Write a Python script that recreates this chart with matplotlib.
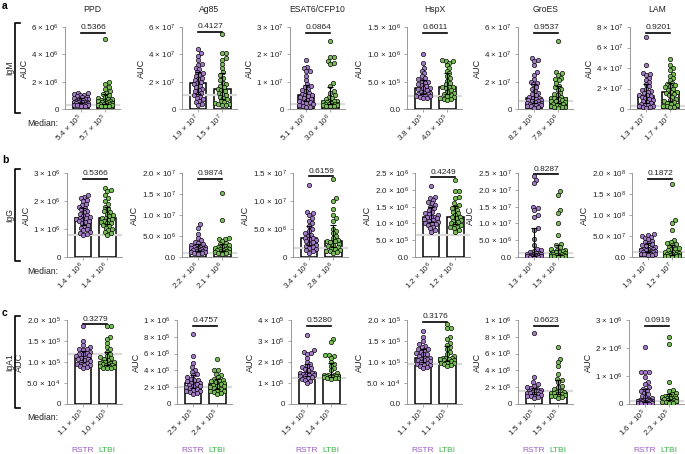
import numpy as np
import matplotlib.pyplot as plt
from matplotlib.lines import Line2D

plt.rcParams['font.family'] = 'Liberation Sans'
plt.rcParams['mathtext.fontset'] = 'custom'
plt.rcParams['mathtext.rm'] = 'Liberation Sans'
plt.rcParams['mathtext.it'] = 'Liberation Sans:italic'
plt.rcParams['mathtext.bf'] = 'Liberation Sans:bold'

antigens = ['PPD', 'Ag85', 'ESAT6/CFP10', 'HspX', 'GroES', 'LAM']
isotypes = ['IgM', 'IgG', 'IgA1']
groups = ['RSTR', 'LTBI']

# ---- IgM (AUC values, one list per antigen) ----
igm_rstr = [
    np.array([12, 11.5, 11, 10.5, 10, 9.5, 9, 8.5, 8, 7.5, 7, 7, 6.5, 6, 5.4, 5.5, 5.4, 5.2, 5, 4.8, 4.5, 4.2, 4, 3.8, 3.5, 3.2, 3, 2.8, 2.5, 2.2]) * 1e5,
    np.array([44, 41, 39, 36, 33, 32, 30, 29, 27, 26, 25, 24, 23, 22, 21, 20, 19, 18, 17, 16, 15, 14, 13, 12, 11, 10, 9, 8, 7, 6, 5, 4, 3]) * 1e6,
    np.array([18, 15.5, 15, 14, 14, 12, 10.5, 9, 8.5, 8, 7.5, 7, 6.5, 6, 5.5, 5.1, 5, 4.7, 4.4, 4, 3.7, 3.4, 3, 2.7, 2.4, 2.1, 1.8, 1.5, 1.2, 0.9, 0.6]) * 1e6,
    np.array([10, 8.5, 7.5, 7, 6.5, 6, 5.6, 5.4, 5.2, 5, 4.8, 4.6, 4.4, 4.2, 3.8, 3.8, 3.6, 3.4, 3.2, 3, 2.9, 2.8, 2.7, 2.6, 2.5, 2.4, 2.3, 2.2, 2.1, 2]) * 1e5,
    np.array([37, 36, 35, 32, 27, 25, 22, 20, 19, 18, 16, 15, 13, 12, 11, 10, 9, 8.2, 8, 7, 6.8, 6.5, 6, 5.5, 5, 4.5, 4.2, 4, 3.5, 3.2, 3, 2.8, 2.5, 2, 1.5, 1]) * 1e6,
    np.array([70, 43, 35, 34, 33, 30, 28, 26, 24, 22, 20, 19, 18, 17, 16, 13.5, 14, 13, 12, 11, 10, 9, 8, 7, 6, 5, 4, 3.5, 3, 2.5, 2, 1.5, 1]) * 1e6,
]
igm_ltbi = [
    np.array([51, 19.5, 18.5, 16, 15, 13, 12, 11, 10, 9, 8, 7.5, 7, 6.5, 6, 5.7, 5.5, 5, 4.8, 4.5, 4.2, 4, 3.8, 3.5, 3.2, 3, 2.8, 2.5, 2.2, 2]) * 1e5,
    np.array([55, 41, 41, 37, 36, 33, 30, 27, 25, 23, 21, 19, 18, 17, 16, 15, 14, 13, 12, 11, 10, 9, 8, 7, 6, 5, 4.5, 4, 3.5, 3, 3]) * 1e6,
    np.array([25, 19, 19, 17.5, 17, 16.5, 9.5, 8.5, 6.5, 6, 5, 4.5, 4, 3.6, 3.1, 3, 2.8, 2.6, 2.4, 2.2, 2, 1.9, 1.8, 1.7, 1.6, 1.5, 1.3, 1.2, 1.1, 1]) * 1e6,
    np.array([9, 8.8, 8.7, 8.5, 8, 7.5, 7, 6.5, 6, 5.6, 5.2, 4.8, 4.5, 4.1, 4, 4, 3.8, 3.5, 3.2, 3, 2.8, 2.6, 2.4, 2.2, 2, 1.9, 1.8, 1.7]) * 1e5,
    np.array([50, 27, 26, 25, 23, 22, 21, 19, 17, 16, 15, 14, 12, 11, 10, 9, 8, 7.8, 7.5, 7, 6.5, 6, 5.5, 5, 4.5, 4, 3.5, 3, 2.5, 2, 1.8, 1.5, 1.2, 1]) * 1e6,
    np.array([49, 43, 40, 38, 34, 32, 30, 28, 25, 24, 23, 22, 21, 20, 19, 17, 17, 16, 15, 14, 12, 10, 9, 8, 7, 6, 5, 4, 3, 2.5, 2, 1.5]) * 1e6,
]

# ---- IgG ----
igg_rstr = [
    np.array([22, 21.5, 21, 20.5, 20, 19, 18.5, 18, 17.5, 17, 16.5, 16, 15.5, 15, 14.5, 14.2, 14, 13.8, 13.5, 13.2, 13, 12.8, 12.5, 12, 11.5, 11, 10.5, 10, 9.5, 9, 8.5, 8.2, 8]) * 1e5,
    np.array([7.8, 7.0, 5.5, 4.5, 4.0, 3.6, 3.3, 3.0, 2.8, 2.6, 2.5, 2.4, 2.3, 2.2, 2.2, 2.1, 2.0, 1.9, 1.8, 1.7, 1.6, 1.5, 1.4, 1.3, 1.2, 1.1, 1.0, 0.9, 0.8]) * 1e6,
    np.array([12.8, 8.0, 7.8, 7.5, 7.0, 6.5, 6.0, 5.5, 5.0, 4.6, 4.3, 4.0, 3.8, 3.4, 3.4, 3.2, 3.0, 2.8, 2.6, 2.4, 2.2, 2.0, 1.8, 1.6, 1.4, 1.2, 1.0, 0.8]) * 1e6,
    np.array([21, 18, 17.5, 17, 16.5, 16, 15.5, 15, 14.5, 14, 13.5, 13, 12.8, 12.5, 12, 12, 11.8, 11.5, 11.2, 11, 10.8, 10.5, 10.2, 10, 9.8, 9.5, 9, 8.5, 8, 7.5]) * 1e5,
    np.array([24, 23, 22, 15, 14.5, 14, 12.5, 12, 8.5, 8, 5.5, 3.5, 2.5, 2.0, 1.8, 1.5, 1.3, 1.2, 1.0, 0.9, 0.8, 0.7, 0.6, 0.5, 0.4, 0.35, 0.3, 0.25, 0.2, 0.15, 0.1, 0.1, 0.05]) * 1e6,
    np.array([5.5, 5.3, 5.0, 4.8, 4.5, 4.2, 3.9, 3.6, 3.3, 3.0, 2.8, 2.6, 2.4, 2.2, 2.0, 1.9, 1.8, 1.7, 1.6, 1.5, 1.4, 1.3, 1.2, 1.1, 1.0, 0.9, 0.8, 0.7, 0.6, 0.5, 0.4]) * 1e7,
]
igg_ltbi = [
    np.array([24.5, 24, 23.5, 22, 21, 20, 19, 18, 17, 16.5, 16, 15.5, 15, 14.5, 14, 14, 13.5, 13.2, 13, 12.5, 12.2, 12, 11.5, 11, 10.5, 10, 9.5, 9, 8.5, 8]) * 1e5,
    np.array([15.2, 8.8, 4.5, 4.4, 4.2, 3.8, 3.4, 3.0, 2.8, 2.6, 2.4, 2.3, 2.2, 2.1, 2.0, 1.9, 1.8, 1.7, 1.6, 1.5, 1.4, 1.3, 1.2, 1.1, 1.0, 0.9, 0.8]) * 1e6,
    np.array([14.0, 10.5, 10.0, 8.5, 7.5, 7.0, 6.5, 5.0, 4.6, 4.2, 3.8, 3.4, 3.1, 2.8, 2.8, 2.6, 2.4, 2.2, 2.0, 1.8, 1.6, 1.4, 1.2, 1.1, 1.0, 0.9, 0.8]) * 1e6,
    np.array([23, 19.5, 19.5, 18, 17.5, 16, 15.5, 15, 14.5, 14, 13.5, 13, 12.5, 12, 11.8, 11.5, 11, 10.8, 10.5, 10, 9.8, 9.5, 9, 8.8, 8.5, 8, 7.5]) * 1e5,
    np.array([19.5, 18.5, 14, 13, 10, 6.5, 4.0, 3.5, 3.0, 2.5, 2.2, 2.0, 1.8, 1.6, 1.5, 1.4, 1.2, 1.0, 0.9, 0.8, 0.7, 0.6, 0.5, 0.4, 0.3, 0.2, 0.15, 0.1, 0.05]) * 1e6,
    np.array([17.5, 8.8, 8.2, 6.5, 4.0, 3.6, 3.3, 3.0, 2.8, 2.5, 2.2, 2.0, 1.8, 1.6, 1.2, 1.2, 1.1, 1.0, 0.9, 0.8, 0.7, 0.6, 0.5, 0.4, 0.35, 0.3, 0.25, 0.2, 0.15, 0.1]) * 1e7,
]

# ---- IgA1 ----
iga_rstr = [
    np.array([18.5, 15, 14, 13.5, 13.2, 13, 12.8, 12.5, 12.2, 12, 11.8, 11.6, 11.4, 11, 11, 10.8, 10.6, 10.4, 10.2, 10, 9.8, 9.6, 9.4, 9.2, 9, 8.8, 8.5]) * 1e4,
    np.array([8.3, 5.7, 4.9, 4.4, 4.1, 3.8, 3.6, 3.4, 3.2, 3.0, 2.9, 2.8, 2.7, 2.5, 2.5, 2.4, 2.3, 2.2, 2.1, 2.0, 1.9, 1.8, 1.7, 1.6, 1.5, 1.4, 1.3, 1.2]) * 1e5,
    np.array([3.3, 2.55, 2.5, 2.45, 2.4, 2.2, 2.0, 1.9, 1.8, 1.75, 1.7, 1.65, 1.6, 1.5, 1.5, 1.48, 1.45, 1.42, 1.4, 1.38, 1.35, 1.32, 1.3, 1.25, 1.2, 1.15, 1.1, 1.0]) * 1e5,
    np.array([17.5, 16, 15, 14.2, 13.8, 13.5, 13.2, 13, 12.8, 12.5, 12.2, 12, 11.8, 11.5, 11, 11, 10.8, 10.6, 10.5, 10.4, 10.2, 10, 9.8, 9.6, 9.4, 9.2, 9, 8.8, 8.5]) * 1e4,
    np.array([8.4, 3.2, 2.6, 2.4, 2.2, 2.0, 1.9, 1.8, 1.7, 1.65, 1.6, 1.5, 1.5, 1.45, 1.4, 1.35, 1.3, 1.25, 1.2, 1.1, 1.0, 0.9, 0.8, 0.7]) * 1e5,
    np.array([20.5, 11.5, 11.5, 11.5, 9.5, 8, 7, 6, 5.5, 5, 4.5, 4, 3.5, 3, 2.5, 2, 1.8, 1.6, 1.5, 1.4, 1.3, 1.2, 1.1, 1.0, 0.9, 0.8, 0.7, 0.6, 0.5, 0.4, 0.3, 0.25, 0.2, 0.15, 0.1]) * 1e5,
]
iga_ltbi = [
    np.array([18.5, 18.5, 16, 15.5, 14.5, 13.5, 13, 12.5, 12, 11.5, 11.2, 11, 10.8, 10.5, 10, 10, 9.9, 9.8, 9.7, 9.6, 9.5, 9.4, 9.2, 9.1, 9, 8.8, 8.6, 8.5, 8.5]) * 1e4,
    np.array([5.4, 4.1, 4.0, 3.6, 3.4, 3.2, 3.0, 2.9, 2.8, 2.7, 2.6, 2.5, 2.4, 2.3, 2.2, 2.1, 2.0, 1.9, 1.8, 1.7, 1.6, 1.5, 1.4, 1.3, 1.2]) * 1e5,
    np.array([3.1, 2.95, 2.35, 2.35, 2.3, 2.2, 2.0, 1.9, 1.8, 1.7, 1.6, 1.5, 1.4, 1.4, 1.38, 1.35, 1.34, 1.32, 1.31, 1.3, 1.28, 1.27, 1.25, 1.24, 1.22, 1.2]) * 1e5,
    np.array([19, 18, 18, 16, 15.5, 14.5, 14, 13.5, 13, 12.5, 12, 11.5, 11, 11, 10.9, 10.8, 10.6, 10.5, 10.4, 10.2, 10, 9.8, 9.7, 9.5, 9.2, 9]) * 1e4,
    np.array([6.8, 5.4, 5.0, 4.5, 3.6, 3.0, 2.8, 2.6, 2.2, 2.0, 1.8, 1.5, 1.5, 1.45, 1.4, 1.35, 1.3, 1.25, 1.2, 1.1, 1.0, 0.9, 0.8, 0.7]) * 1e5,
    np.array([24, 21.5, 8, 5, 4.5, 4, 3.5, 3.2, 3, 2.8, 2.6, 2.3, 2.3, 2.2, 2, 1.8, 1.6, 1.4, 1.2, 1.0, 0.8, 0.6, 0.4, 0.2]) * 1e5,
]

# medians (bar heights / labels), RSTR then LTBI
igm_median = [[5.4e5, 5.7e5], [1.9e7, 1.5e7], [5.1e6, 3.0e6], [3.8e5, 4.0e5], [8.2e6, 7.8e6], [1.3e7, 1.7e7]]
igg_median = [[1.4e6, 1.4e6], [2.2e6, 2.1e6], [3.4e6, 2.8e6], [1.2e6, 1.2e6], [1.3e6, 1.5e6], [1.9e7, 1.2e7]]
iga_median = [[1.1e5, 1.0e5], [2.5e5, 2.4e5], [1.5e5, 1.4e5], [1.1e5, 1.1e5], [1.5e5, 1.5e5], [1.6e5, 2.3e5]]

igm_p = ['0.5366', '0.4127', '0.0864', '0.6011', '0.9537', '0.9201']
igg_p = ['0.5366', '0.9874', '0.6159', '0.4249', '0.8287', '0.1872']
iga_p = ['0.3279', '0.4757', '0.5280', '0.3176', '0.6623', '0.0919']

# y axis: max, step, decimals, label for zero
igm_yaxis = [(6e6, 2e6, 0, '0'), (6e7, 2e7, 0, '0'), (3e7, 1e7, 0, '0'),
             (1.5e6, 5e5, 1, '0.0'), (6e7, 2e7, 0, '0'), (8e7, 2e7, 0, '0')]
igg_yaxis = [(3e6, 1e6, 0, '0'), (2e7, 5e6, 1, '0.0'), (1.5e7, 5e6, 1, '0'),
             (2.5e6, 5e5, 1, '0.0'), (2.5e7, 5e6, 1, '0.0'), (2e8, 5e7, 1, '0.0')]
iga_yaxis = [(2e5, 5e4, 1, '0'), (1e6, 2e5, 0, '0'), (4e5, 1e5, 0, '0'),
             (2e5, 5e4, 1, '0.0'), (1e6, 2e5, 0, '0'), (3e6, 1e6, 0, '0')]

# grey cut-off lines
igm_cut = [3e5, 1.05e7, 1.8e6, 2.3e5, 6e6, 3e6]
igg_cut = [7.7e5, 0.9e6, 1.6e6, 6.5e5, 1.2e6, 1.2e7]
iga_cut = [1.2e5, 2.0e5, 1.25e5, 0.95e5, 1.6e5, 1.2e5]

rows = [
    (igm_rstr, igm_ltbi, igm_median, igm_p, igm_yaxis, igm_cut),
    (igg_rstr, igg_ltbi, igg_median, igg_p, igg_yaxis, igg_cut),
    (iga_rstr, iga_ltbi, iga_median, iga_p, iga_yaxis, iga_cut),
]

fill = ['#a27ac6', '#78bd55']
label_col = ['#9a5fc2', '#3bb54a']

W, H = 685, 454
lefts = [[65, 182, 290, 407, 518, 630],
         [67, 182, 293, 415, 518, 632],
         [67, 177, 291, 407, 518, 629]]
tops = [27, 173, 320]
bases = [109, 257, 404]
axw = 55
xl = (-0.67, 1.62)
unit = axw / (xl[1] - xl[0])


def sci(v, d, zero):
    if v == 0:
        return zero
    e = int(np.floor(np.log10(v) + 1e-9))
    m = v / 10 ** e
    return f'{m:.{d}f} × 10$^{{{e}}}$'


def swarm(vals, ymax, hpx, dia=3.6, maxw=7.2):
    ys = np.asarray(vals) / ymax * hpx
    cands = [0.0]
    k = 1
    while k * 0.5 <= maxw:
        cands += [k * 0.5, -k * 0.5]
        k += 1
    placed = []
    xs = np.zeros(len(ys))
    for i in np.argsort(ys):
        y = ys[i]
        best = None
        for c in cands:
            if all((c - px) ** 2 + (y - py) ** 2 >= dia ** 2 for px, py in placed):
                best = c
                break
        if best is None:
            best = max(cands, key=lambda c: min((c - px) ** 2 + (y - py) ** 2 for px, py in placed))
        placed.append((best, y))
        xs[i] = best
    return xs / unit


fig = plt.figure(figsize=(W / 100, H / 100), dpi=100)

for r, (d_r, d_l, meds, pvals, yaxes, cuts) in enumerate(rows):
    h = bases[r] - tops[r]
    for c in range(6):
        ax = fig.add_axes([lefts[r][c] / W, (H - bases[r]) / H, axw / W, h / H])
        ymax, step, dec, zero = yaxes[c]
        ax.set_xlim(*xl)
        ax.set_ylim(0, ymax)
        ax.axhline(cuts[c], color='#dadada', lw=1.6, zorder=1.5)
        allv = []
        for g, vals in enumerate([d_r[c], d_l[c]]):
            med = meds[c][g]
            ax.bar(g, med, width=0.7, facecolor='white', edgecolor='black', lw=1.1, zorder=1)
            xs = g + swarm(vals, ymax, h)
            ax.scatter(xs, vals, s=10, c=fill[g], edgecolors='black', linewidths=0.45, zorder=3)
            q1, q3 = np.percentile(vals, [25, 75])
            ax.plot([g, g], [q1, q3], color='black', lw=0.8, zorder=4)
            ax.hlines([q1, q3], g - 0.11, g + 0.11, color='black', lw=0.8, zorder=4)
            allv.extend(vals)
        yb = max(0.93 * ymax, 1.03 * max(allv))
        ax.plot([0, 1], [yb, yb], color='black', lw=1.2, clip_on=False)
        ax.annotate(pvals[c], (0.5, yb), xytext=(0, 1), textcoords='offset points',
                    ha='center', va='bottom', fontsize=6, color='#222')
        ticks = np.arange(0, ymax + step / 2, step)
        ax.set_yticks(ticks)
        ax.set_yticklabels([sci(t, dec, zero) for t in ticks])
        ax.set_xticks([0, 1])
        ax.set_xticklabels([sci(m, 1, '0') for m in meds[c]], rotation=45,
                           ha='right', va='center', rotation_mode='anchor')
        ax.tick_params(axis='both', labelsize=5.8, labelcolor='#222', color='#999',
                       width=0.6, length=2.5, pad=2)
        ax.tick_params(axis='x', length=2, pad=3)
        for s in ['top', 'right']:
            ax.spines[s].set_visible(False)
        for s in ['left', 'bottom']:
            ax.spines[s].set_color('#999')
            ax.spines[s].set_linewidth(0.7)
        ax.set_ylabel('AUC', fontsize=6.5, labelpad=2, color='#222')
        if r == 0:
            ax.set_title(antigens[c], fontsize=6.2, pad=11, color='#222')
        if r == 2:
            for g in range(2):
                xp = (lefts[r][c] + (g - xl[0]) * unit) / W
                fig.text(xp, 1 - 450 / H, groups[g], color=label_col[g],
                         ha='center', va='center', fontsize=6)

    # row decorations
    fig.text(58 / W, 1 - (bases[r] + 14) / H, 'Median:', ha='right', va='center',
             fontsize=6.2, color='#222')
    yt, yb2 = 1 - (tops[r] - 4) / H, 1 - (bases[r] + 4) / H
    fig.add_artist(Line2D([20 / W, 15 / W, 15 / W, 20 / W], [yt, yt, yb2, yb2],
                          color='black', lw=1.2))
    fig.text(10 / W, (yt + yb2) / 2, isotypes[r], rotation=90, ha='center', va='center',
             fontsize=6.2, color='#222')
    fig.text(2 / W, 1 - [6, 160, 313][r] / H, 'abc'[r], fontweight='bold', fontsize=7.5,
             ha='left', va='center')

plt.savefig('out.png', dpi=100)
